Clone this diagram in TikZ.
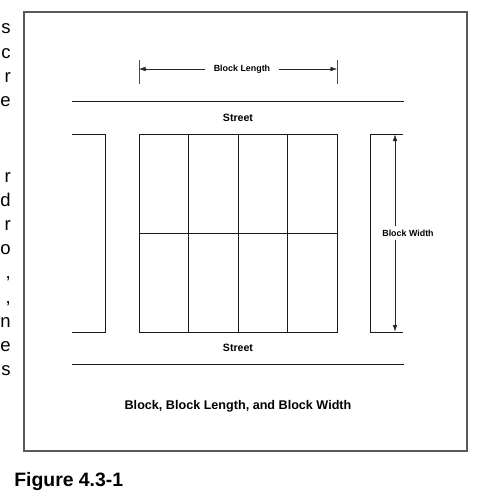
\documentclass[tikz,border=0pt]{standalone}
\usepackage{fontspec}
\setmainfont{Liberation Sans}
\usetikzlibrary{arrows.meta, positioning, calc}

\begin{document}
\begin{tikzpicture}[
    x=1pt, y=-1pt,
    semithick,
    ]
    \tikzstyle{lot}=[draw=black!90, line width=0.9pt]
    \tikzstyle{dim}=[draw=black!85, line width=0.45pt, -{Latex[length=6.5pt,width=4.5pt]}]
    \tikzstyle{lbl}=[font=\bfseries\fontsize{8.9}{11}\selectfont, inner sep=2pt]
    \tikzstyle{bodytxt}=[anchor=base east, inner sep=0pt, font=\fontsize{18.5}{22}\selectfont]
    \useasboundingbox (0,0) rectangle (480,503);
    % page text cut off at the left
    \foreach \ch [count=\i from 0] in {s,c,r,e}
        \node[bodytxt] (pa\i) at (11,34+24.2*\i) {\ch};
    \foreach \ch [count=\i from 0] in {r,d,r,o,{,},{,},n,e,s}
        \node[bodytxt] (pb\i) at (11,182+24.2*\i) {\ch};
    % frame
    \draw[draw=black!65, line width=1.3pt] (24,12) rectangle (467,451);
    % streets
    \draw[lot] (72,101) -- (404,101);
    \draw[lot] (72,364) -- (404,364);
    \node[font=\bfseries\fontsize{10.6}{13}\selectfont] (st1) at (238,118) {Street};
    \node[font=\bfseries\fontsize{10.6}{13}\selectfont] (st2) at (238,348) {Street};
    % blocks
    \draw[lot] (72,134) -- (105,134) -- (105,332) -- (72,332);
    \draw[lot] (403,134) -- (370,134) -- (370,332) -- (403,332);
    \draw[lot] (139,134) rectangle (337,332);
    \draw[lot] (139,233) -- (337,233);
    \foreach \x in {188.5,238,287.5}
        \draw[lot] (\x,134) -- (\x,332);
    % block length
    \coordinate (bl1) at (139,69);
    \coordinate (bl2) at (337,69);
    \draw[draw=black!70, line width=0.6pt] (139,60) -- (139,84);
    \draw[draw=black!70, line width=0.6pt] (337,60) -- (337,84);
    \node[lbl, inner xsep=9pt] (blen) at (242,69) {Block Length};
    \draw[dim] (blen.west) -- (bl1);
    \draw[dim] (blen.east) -- (bl2);
    % block width
    \coordinate (bw1) at (395,134.5);
    \coordinate (bw2) at (395,331.5);
    \node[lbl, inner ysep=3pt] (bwid) at (408,233) {Block Width};
    \draw[dim] (bwid.north -| bw1) -- (bw1);
    \draw[dim] (bwid.south -| bw2) -- (bw2);
    % caption
    \node[font=\bfseries\fontsize{12.6}{15}\selectfont] (title) at (238,406) {Block, Block Length, and Block Width};
    \node[anchor=base west, inner sep=0pt, font=\bfseries\fontsize{19.4}{23}\selectfont] (fig) at (14,486) {Figure 4.3-1};
\end{tikzpicture}
\end{document}
